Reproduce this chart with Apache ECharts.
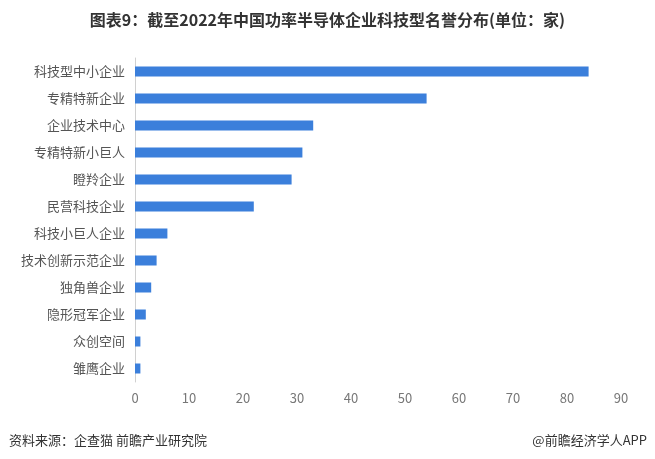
<!DOCTYPE html>
<html><head><meta charset="utf-8">
<script src="https://cdn.jsdelivr.net/npm/echarts@6/dist/echarts.min.js"></script>
<style>html,body{margin:0;padding:0;background:#fff}#c{width:655px;height:459px}</style>
</head><body><div id="c"></div>
<script>
const categories = ['科技型中小企业','专精特新企业','企业技术中心','专精特新小巨人','瞪羚企业','民营科技企业','科技小巨人企业','技术创新示范企业','独角兽企业','隐形冠军企业','众创空间','雏鹰企业'];
const values = [84,54,33,31,29,22,6,4,3,2,1,1];
const titleText = '图表9：截至2022年中国功率半导体企业科技型名誉分布(单位：家)';
const sourceText = '资料来源：企查猫 前瞻产业研究院';
const creditText = '@前瞻经济学人APP';
const chart = echarts.init(document.getElementById('c'));
chart.setOption({
  animation:false,
  textStyle:{fontFamily:'"Noto Sans CJK SC", sans-serif'},
  title:[
    {text:titleText,left:'center',top:7,textStyle:{fontSize:16,fontWeight:'bold',color:'#333',fontFamily:'"Noto Sans CJK SC", sans-serif'}},
    {text:sourceText,left:4,top:429,textStyle:{fontSize:13,fontWeight:'normal',color:'#333'}},
    {text:creditText,right:3,top:429,textStyle:{fontSize:13,fontWeight:'normal',color:'#333'}}
  ],
  grid:{left:135,right:34,top:58,bottom:77,containLabel:false},
  xAxis:{type:'value',min:0,max:90,interval:10,
    axisLine:{show:false},axisTick:{show:false},splitLine:{show:false},
    axisLabel:{color:'#777',fontSize:13,margin:10}},
  yAxis:{type:'category',data:categories,inverse:true,
    axisLine:{show:true,lineStyle:{color:'#d0d0d0'}},axisTick:{show:false},
    axisLabel:{color:'#555',fontSize:13,margin:10}},
  series:[{type:'bar',data:values,barWidth:10,itemStyle:{color:'#3b7fdb'}}]
});
</script></body></html>
